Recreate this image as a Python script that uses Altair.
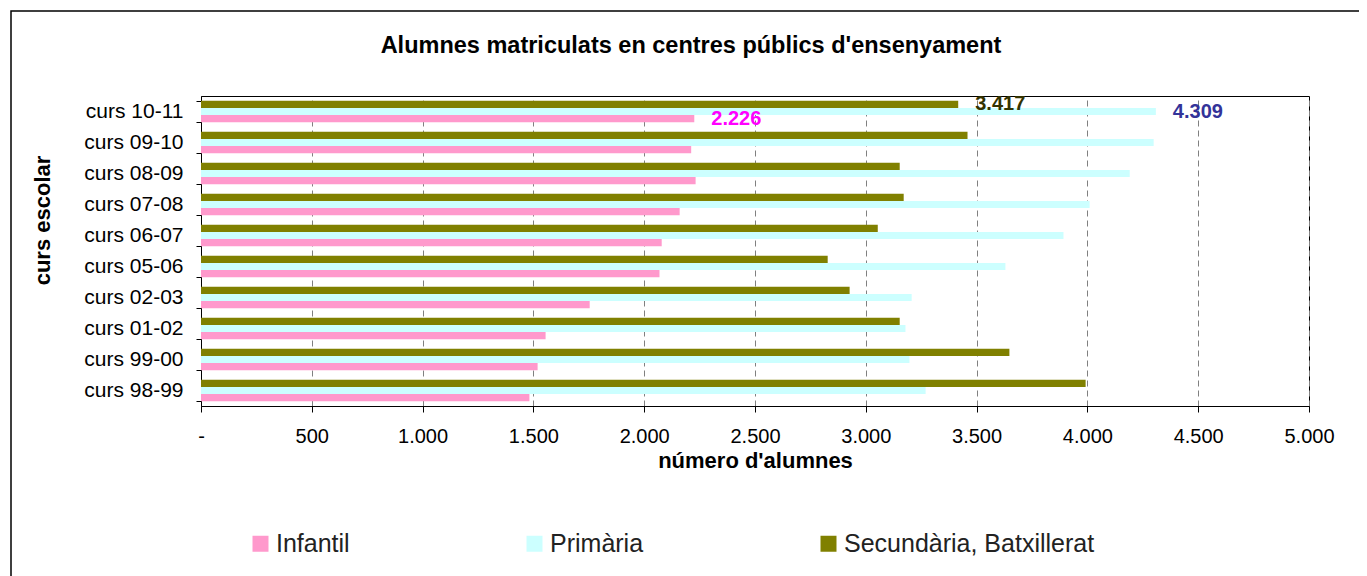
import altair as alt
import pandas as pd

# ---- data ----
cursos = ["curs 10-11", "curs 09-10", "curs 08-09", "curs 07-08", "curs 06-07",
          "curs 05-06", "curs 02-03", "curs 01-02", "curs 99-00", "curs 98-99"]
infantil = [2226, 2212, 2232, 2160, 2079, 2069, 1754, 1555, 1519, 1482]
primaria = [4309, 4299, 4191, 4010, 3892, 3630, 3207, 3179, 3197, 3270]
secundaria = [3417, 3459, 3153, 3171, 3054, 2828, 2927, 3153, 3648, 3992]
series = ["Infantil", "Primària", "Secundària, Batxillerat"]
x_ticks = [0, 500, 1000, 1500, 2000, 2500, 3000, 3500, 4000, 4500, 5000]

rows = []
for i, c in enumerate(cursos):
    for s, vals in zip(series, [infantil, primaria, secundaria]):
        rows.append({"curs": c, "serie": s, "alumnes": vals[i]})
df = pd.DataFrame(rows)

# ---- styles ----
bar_colors = ["#FF99CC", "#CCFFFF", "#808000"]
label_colors = {"Infantil": "#FF00FF", "Primària": "#333399",
                "Secundària, Batxillerat": "#333300"}
df["label_color"] = df["serie"].map(label_colors)
FONT = "Liberation Sans"
offset_order = [series[2], series[1], series[0]]

y_scale = alt.Scale(paddingInner=0.3, paddingOuter=0.15)
yoff_scale = alt.Scale(paddingInner=0, paddingOuter=0)
x_scale = alt.Scale(domain=[0, 5000], nice=False)

y_axis = alt.Axis(
    title="curs escolar", titleFont=FONT, titleFontSize=22, titleFontWeight="bold",
    titleColor="#000", titleX=-159, titleY=124, titleAlign="center",
    titleBaseline="middle", titleAngle=270,
    labelFont=FONT, labelFontSize=21, labelColor="#000", labelPadding=13,
    tickSize=5, tickBand="extent", tickColor="#000", domainColor="#000",
    grid=False,
)
x_axis = alt.Axis(
    values=x_ticks,
    labelExpr="datum.value == 0 ? '-' : replace(format(datum.value, ','), ',', '.')",
    title="número d'alumnes", titleFont=FONT, titleFontSize=22, titleFontWeight="bold",
    titleColor="#000", titlePadding=4,
    labelFont=FONT, labelFontSize=20, labelColor="#000", labelPadding=14,
    labelFlush=False, labelOverlap=False,
    tickSize=6, tickColor="#000", domainColor="#000",
    grid=True, gridDash=[6, 4], gridColor="#808080", gridWidth=1,
)

bars = alt.Chart(df).mark_bar().encode(
    x=alt.X("alumnes:Q", scale=x_scale, axis=x_axis),
    y=alt.Y("curs:N", sort=cursos, scale=y_scale, axis=y_axis),
    yOffset=alt.YOffset("serie:N", sort=offset_order, scale=yoff_scale),
    color=alt.Color(
        "serie:N",
        scale=alt.Scale(domain=series, range=bar_colors),
        legend=alt.Legend(
            title=None, orient="none", legendX=47, legendY=435,
            direction="horizontal", columns=3, gridAlign="each",
            columnPadding=172, symbolType="square", symbolSize=256,
            symbolStrokeWidth=0, labelOffset=3, labelFont=FONT,
            labelFontSize=25, labelColor="#222", labelLimit=400, padding=0,
        ),
    ),
)

labels = alt.Chart(df).transform_filter(
    alt.datum.curs == cursos[0]
).transform_calculate(
    txt="replace(format(datum.alumnes, ','), ',', '.')"
).mark_text(
    align="left", baseline="middle", dx=17, font=FONT, fontSize=20, fontWeight="bold"
).encode(
    x=alt.X("alumnes:Q", scale=x_scale),
    y=alt.Y("curs:N", sort=cursos),
    yOffset=alt.YOffset("serie:N", sort=offset_order),
    text=alt.Text("txt:N"),
    fill=alt.Fill("label_color:N", scale=None, legend=None),
)

frame = alt.Chart(pd.DataFrame({"f": [0]})).mark_rect(
    fillOpacity=0, stroke="#000", strokeWidth=1.5, clip=False
).encode(
    x=alt.value(-190), x2=alt.value(1200), y=alt.value(-85), y2=alt.value(520)
)

chart = alt.layer(frame, bars, labels).properties(
    width=1108,
    height=310,
    autosize=alt.AutoSizeParams(type="none"),
    padding={"left": 193, "top": 88, "right": 50, "bottom": 170},
    title=alt.TitleParams(
        "Alumnes matriculats en centres públics d'ensenyament",
        font=FONT, fontSize=23.5, fontWeight="bold", color="#000",
        anchor="middle", dx=-64, offset=0, dy=47,
    ),
).configure_view(stroke="#000", strokeWidth=1)

chart.save("out.html", embed_options={"renderer": "svg", "actions": False})
